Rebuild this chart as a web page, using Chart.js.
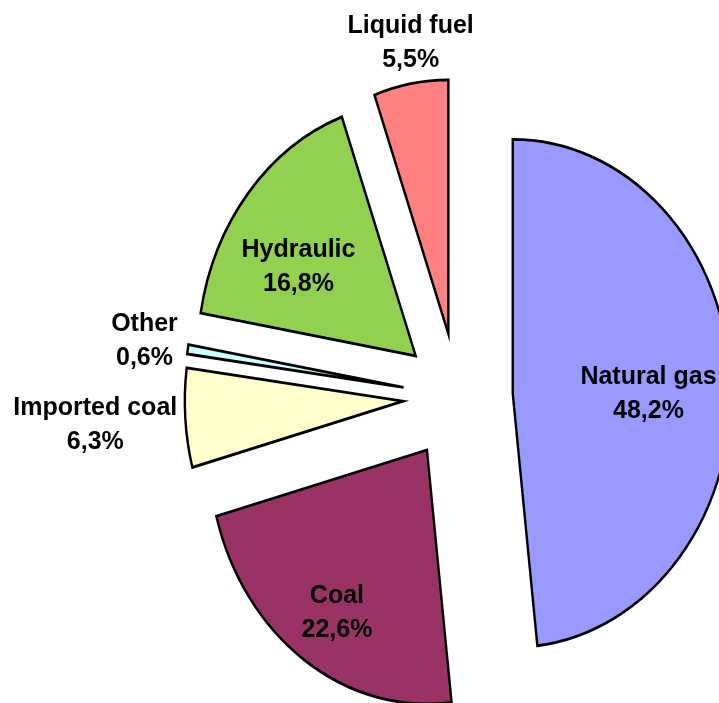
<!DOCTYPE html>
<html>
<head>
<meta charset="utf-8">
<script src="https://cdn.jsdelivr.net/npm/chart.js@4.4.0/dist/chart.umd.min.js"></script>
<style>
  html, body { margin: 0; padding: 0; background: #fff; overflow: hidden; width: 719px; height: 703px; }
  #pie { position: absolute; left: 0; top: 0; width: 1066px; height: 794px; }
</style>
</head>
<body>
<canvas id="pie" width="1066" height="794"></canvas>
<script>
// Data
const categories = ['Natural gas', 'Coal', 'Imported coal', 'Other', 'Hydraulic', 'Liquid fuel'];
const shares = [48.2, 22.6, 6.3, 0.6, 16.8, 5.5];
const colors = ['#9999ff', '#993366', '#ffffcc', '#ccffff', '#92d050', '#ff8080'];

// Label placement: distance from the slice tip, and turn (deg) off the bisector
const labelDist = [158, 194, 359, 305, 163, 294];
const labelTurn = [3.6, -1.5, 0, 0, -6.8, 1.3];

const squeeze = 0.859; // source pie is an ellipse (narrower than tall)
const explode = 64;    // every slice pulled out by the same amount

function fmt(v) {
    return v.toFixed(1).replace('.', ',') + '%';
}

const explodePlugin = {
    id: 'explode',
    afterDatasetsUpdate(chart) {
        chart.getDatasetMeta(0).data.forEach(arc => {
            const mid = (arc.startAngle + arc.endAngle) / 2;
            arc.x = arc.x + Math.cos(mid) * explode;
            arc.y = arc.y + Math.sin(mid) * explode;
        });
    },
    beforeDatasetsDraw(chart) {
        chart.ctx.save();
        chart.ctx.scale(squeeze, 1);
    },
    afterDatasetsDraw(chart) {
        chart.ctx.restore();
    },
    afterDraw(chart) {
        const ctx = chart.ctx;
        ctx.save();
        ctx.font = 'bold 25px "Liberation Sans", Arial, sans-serif';
        ctx.fillStyle = '#000';
        ctx.textAlign = 'center';
        ctx.textBaseline = 'middle';
        chart.getDatasetMeta(0).data.forEach((arc, i) => {
            const a = (arc.startAngle + arc.endAngle) / 2 + labelTurn[i] * Math.PI / 180;
            const x = squeeze * (arc.x + Math.cos(a) * labelDist[i]);
            const y = arc.y + Math.sin(a) * labelDist[i];
            ctx.fillText(categories[i], x, y - 17);
            ctx.fillText(fmt(shares[i]), x, y + 17);
        });
        ctx.restore();
    }
};

const ctx = document.getElementById('pie').getContext('2d');

new Chart(ctx, {
    type: 'pie',
    data: {
        labels: categories,
        datasets: [{
            data: shares,
            backgroundColor: colors,
            borderColor: '#000',
            borderWidth: 2.8,
            borderJoinStyle: 'miter',
            hoverOffset: 0
        }]
    },
    options: {
        responsive: false,
        devicePixelRatio: 1,
        animation: false,
        events: [],
        radius: 254,
        rotation: 0,
        layout: { padding: 0 },
        plugins: { legend: { display: false }, tooltip: { enabled: false } }
    },
    plugins: [explodePlugin]
});
</script>
</body>
</html>
